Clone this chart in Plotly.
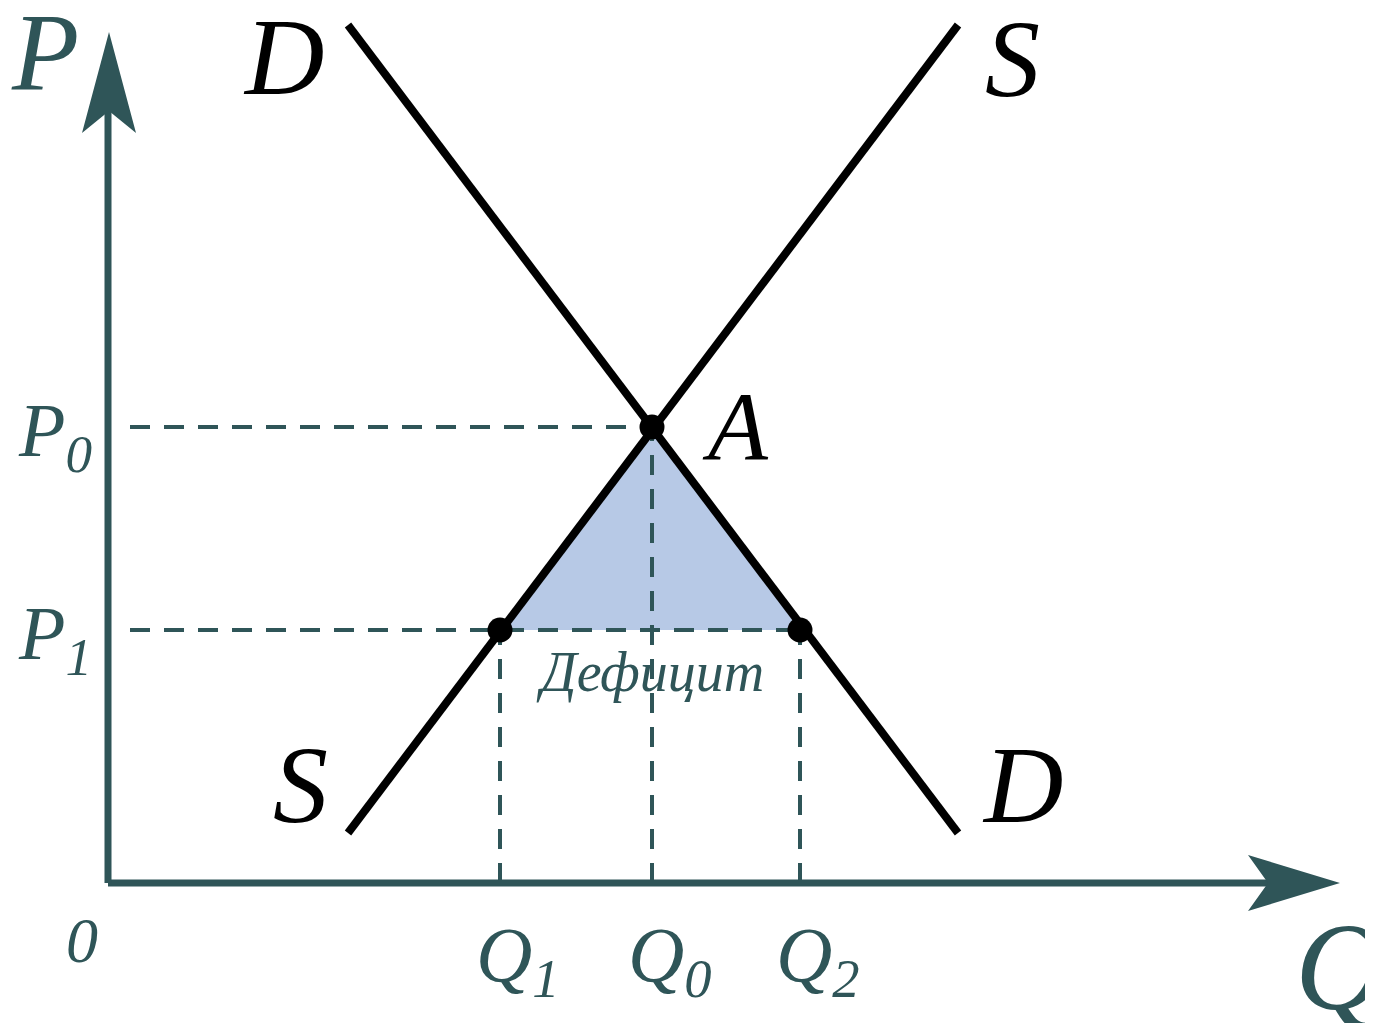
import plotly.graph_objects as go

# values (origin at 0, 1 unit ~ 1 px)
demand_q = [240, 850]
demand_p = [858, 50]
supply_q = [240, 850]
supply_p = [50, 858]

q_names = ['Q<sub>1</sub>', 'Q<sub>0</sub>', 'Q<sub>2</sub>']
q_vals = [392, 544, 692]
p_names = ['P<sub>0</sub>', 'P<sub>1</sub>']
p_vals = [456, 253]

axis_col = '#2f5558'
serif = 'Liberation Serif'

fig = go.Figure()

# deficit triangle
fig.add_trace(go.Scatter(
    x=[q_vals[0], q_vals[1], q_vals[2], q_vals[0]],
    y=[p_vals[1], p_vals[0], p_vals[1], p_vals[1]],
    fill='toself', fillcolor='#b7c9e6', line=dict(width=0),
    mode='lines', hoverinfo='skip'))

# dashed guides
dash = dict(color=axis_col, width=4, dash='20px,14px')
fig.add_trace(go.Scatter(x=[22, q_vals[1]], y=[p_vals[0], p_vals[0]], mode='lines', line=dash))
fig.add_trace(go.Scatter(x=[22, q_vals[2]], y=[p_vals[1], p_vals[1]], mode='lines', line=dash))
fig.add_trace(go.Scatter(x=[q_vals[1], q_vals[1]], y=[0, p_vals[0]], mode='lines', line=dash))
for q in [q_vals[0], q_vals[2]]:
    fig.add_trace(go.Scatter(x=[q, q], y=[0, p_vals[1]], mode='lines', line=dash))

# demand and supply
fig.add_trace(go.Scatter(x=demand_q, y=demand_p, mode='lines', line=dict(color='black', width=8)))
fig.add_trace(go.Scatter(x=supply_q, y=supply_p, mode='lines', line=dict(color='black', width=8)))

# points
fig.add_trace(go.Scatter(
    x=[q_vals[1], q_vals[0], q_vals[2]],
    y=[p_vals[0], p_vals[1], p_vals[1]],
    mode='markers', marker=dict(color='black', size=25)))

# axes with barbed arrowheads
fig.add_shape(type='line', x0=0, y0=0, x1=1165, y1=0, line=dict(color=axis_col, width=7))
fig.add_shape(type='line', x0=0, y0=0, x1=0, y1=775, line=dict(color=axis_col, width=7))
fig.add_shape(type='path', path='M 1232 0 L 1140 28 L 1160 0 L 1140 -28 Z',
              fillcolor=axis_col, line=dict(width=0))
fig.add_shape(type='path', path='M 1 851 L -26 750 L 1 772 L 28 750 Z',
              fillcolor=axis_col, line=dict(width=0))

def label(x, y, text, size, color='black'):
    fig.add_annotation(x=x, y=y, xref='x', yref='y', text=text, showarrow=False,
                       font=dict(family=serif, size=size, color=color, style='italic'))

label(-63, 831, 'P', 110, axis_col)
label(1232, -84, 'Q', 125, axis_col)
label(-26, -57, '0', 64, axis_col)
label(175, 826, 'D', 110)
label(904, 824, 'S', 110)
label(192, 98, 'S', 110)
label(914, 98, 'D', 110)
label(627, 457, 'A', 98)
label(542, 211, 'Дефицит', 56, axis_col)

for name, q in zip(q_names, q_vals):
    label(q + 18, -77, name, 78, axis_col)
for name, p in zip(p_names, p_vals):
    label(-53, p - 9, name, 76, axis_col)

fig.update_xaxes(range=[-100, 1273], visible=False)
fig.update_yaxes(range=[-148, 875], visible=False)
fig.update_layout(width=1373, height=1023, margin=dict(l=0, r=0, t=0, b=0),
                  paper_bgcolor='white', plot_bgcolor='white', showlegend=False)

fig.write_html("out.html")
